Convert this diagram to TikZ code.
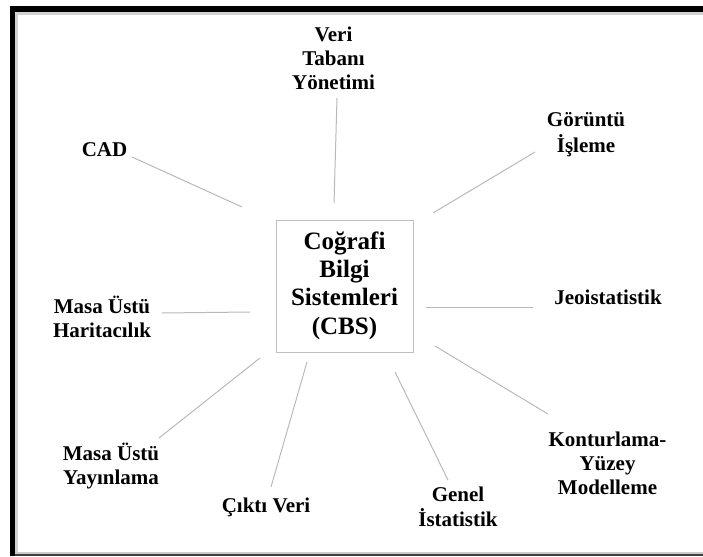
\documentclass[tikz,border=0pt]{standalone}
\usepackage{fontspec}
\setmainfont{Liberation Serif}
\newcommand{\stk}[1]{\begin{tabular}[t]{@{}c@{}}#1\end{tabular}}
\begin{document}
\begin{tikzpicture}[x=1pt,y=-1pt,
  lbl/.style={anchor=base, inner sep=0pt, font=\fontsize{21}{24}\selectfont\bfseries},
  conn/.style={draw=gray!55, line width=1pt},
  hub/.style={draw=gray!50, line width=1pt, inner sep=0pt, minimum width=137pt, minimum height=132pt,
    font=\fontsize{25}{28.3}\selectfont\bfseries}]
\useasboundingbox (0,0) rectangle (703,556);
% frame
\fill[gray!35] (15,12) rectangle (703,15);
\fill[gray!35] (15,12) rectangle (18,552);
\fill[gray!40] (15,551.5) rectangle (703,554);
\fill[black!75] (10,554) rectangle (703,555.5);
\fill[black] (10,6) rectangle (703,12);
\fill[black] (10,6) rectangle (15,555.5);
% hub
\node[hub] (cbs) at (344.5,286) {\stk{Coğrafi\\Bilgi\\Sistemleri\\(CBS)}};
% labels
\node[lbl] (vt)  at (333.5,41.5) {\stk{Veri\\Tabanı\\Yönetimi}};
\node[lbl] (cad) at (104.5,157) {CAD};
\node[lbl] (gi)  at (586,127) {\stk{Görüntü\\İşleme}};
\node[lbl] (jeo) at (608,304) {Jeoistatistik};
\node[lbl] (kon) at (607.5,446) {\stk{Konturlama-\\Yüzey\\Modelleme}};
\node[lbl] (gen) at (458,501) {\stk{Genel\\İstatistik}};
\node[lbl] (mh)  at (102,313) {\stk{Masa Üstü\\Haritacılık}};
\node[lbl] (my)  at (111,460) {\stk{Masa Üstü\\Yayınlama}};
\node[lbl] (cv)  at (266,512) {Çıktı Veri};
% connector end points
\coordinate (vtA) at (337,98);   \coordinate (vtB) at (334,203);
\coordinate (giA) at (535,152);  \coordinate (giB) at (433,213);
\coordinate (cadA) at (132,157); \coordinate (cadB) at (242,207);
\coordinate (jeoA) at (533,307); \coordinate (jeoB) at (426,307);
\coordinate (konA) at (548,414); \coordinate (konB) at (435,346);
\coordinate (genA) at (448,480); \coordinate (genB) at (395,372);
\coordinate (mhA) at (162,313);  \coordinate (mhB) at (250,312);
\coordinate (myA) at (159,438);  \coordinate (myB) at (260,358);
\coordinate (cvA) at (271,487);  \coordinate (cvB) at (307,362);
\foreach \n in {vt,gi,cad,jeo,kon,gen,mh,my,cv}
  \draw[conn] (\n A) -- (\n B);
\end{tikzpicture}
\end{document}
